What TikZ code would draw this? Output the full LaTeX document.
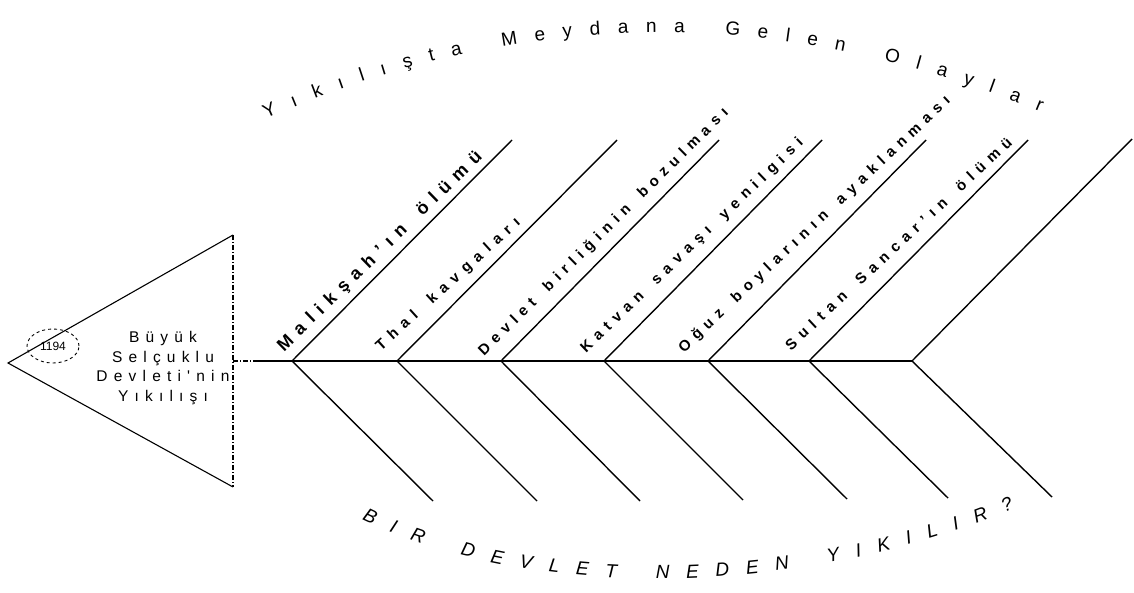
\documentclass[tikz,border=0pt]{standalone}
\usepackage{fontspec}
\setmainfont{Liberation Sans}
\newfontfamily\spfont[LetterSpace=40]{Liberation Sans}
\usetikzlibrary{decorations.text,shapes.geometric}
\newcommand{\labf}{\fontsize{15}{15}\selectfont\bfseries}
\newcommand{\malf}{\fontsize{18}{18}\selectfont\bfseries}
\newcommand{\arcf}{\fontsize{19}{19}\selectfont}
\newcommand{\botf}{\fontsize{19}{19}\selectfont\itshape}
\begin{document}
\begin{tikzpicture}[x=1pt,y=-1pt,
  bone/.style={line width=1.4pt, black},
  outline/.style={line width=1.1pt, black},
  dotline/.style={line width=1.1pt, dash pattern=on 5pt off 2pt on 1pt off 2pt},
  lab/.style={decorate, decoration={text along path, text align=fit to path, text={#1}}}
]
\useasboundingbox (0,0) rectangle (1134,593);

% head (triangle)
\coordinate (tip) at (8,363);
\coordinate (tt) at (233,235);
\coordinate (tb) at (233,487);
\coordinate (neck) at (233,361);
\coordinate (s0) at (258,361);
\draw[outline] (tt) -- (tip) -- (tb);
\draw[dotline] (tt) -- (tb);

\node[font=\spfont\fontsize{15.5}{19.6}\selectfont, align=center, inner sep=0pt] (head) at (163,368)
  {Büyük\\Selçuklu\\Devleti'nin\\Yıkılışı};
\node[draw, dashed, ellipse, line width=0.9pt, minimum width=52pt, minimum height=34pt, inner sep=0pt,
  font=\fontsize{12}{12}\selectfont] (yr) at (53,346) {1194};

% spine
\coordinate (j1) at (292,361);
\coordinate (j2) at (397,361);
\coordinate (j3) at (501,361);
\coordinate (j4) at (604,361);
\coordinate (j5) at (708,361);
\coordinate (j6) at (809,361);
\coordinate (j7) at (912,361);
\draw[dotline] (neck) -- (s0);
\draw[bone] (s0) -- (j7);

% upper bones
\coordinate (u1) at (512,140);
\coordinate (u2) at (617,140);
\coordinate (u3) at (719,140);
\coordinate (u4) at (822,140);
\coordinate (u5) at (926,140);
\coordinate (u6) at (1028,140);
\coordinate (u7) at (1132,139);
% lower bones
\coordinate (l1) at (433,501);
\coordinate (l2) at (537,501);
\coordinate (l3) at (640,501);
\coordinate (l4) at (743,500);
\coordinate (l5) at (847,499);
\coordinate (l6) at (948,498);
\coordinate (l7) at (1052,497);
\foreach \i in {1,...,7}{
  \draw[bone] (j\i) -- (u\i);
  \draw[bone] (j\i) -- (l\i);
}

% bone labels
\coordinate (a1) at (284,352); \coordinate (b1) at (483,158);
\coordinate (a2) at (381,351); \coordinate (b2) at (521,224);
\coordinate (a3) at (484,356); \coordinate (b3) at (729,114);
\coordinate (a4) at (586,353); \coordinate (b4) at (804,144);
\coordinate (a5) at (684,353); \coordinate (b5) at (951,102);
\coordinate (a6) at (791,351); \coordinate (b6) at (1013,144);
\path[lab={|\malf|Malikşah'ın ölümü}] (a1) -- (b1);
\path[lab={|\labf|Thal kavgaları}] (a2) -- (b2);
\path[lab={|\labf|Devlet birliğinin bozulması}] (a3) -- (b3);
\path[lab={|\labf|Katvan savaşı yenilgisi}] (a4) -- (b4);
\path[lab={|\labf|Oğuz boylarının ayaklanması}] (a5) -- (b5);
\path[lab={|\labf|Sultan Sancar'ın ölümü}] (a6) -- (b6);

% arc titles
\coordinate (ts) at (266,119); \coordinate (te) at (1040,112);
\path[lab={|\arcf|Yıkılışta Meydana Gelen Olaylar}] (ts) .. controls (522,5) and (783,5) .. (te);
\coordinate (bs) at (362,519); \coordinate (be) at (1014,508);
\path[lab={|\botf|BIR DEVLET NEDEN YIKILIR?}] (bs) .. controls (548,610) and (827,589) .. (be);
\end{tikzpicture}
\end{document}
